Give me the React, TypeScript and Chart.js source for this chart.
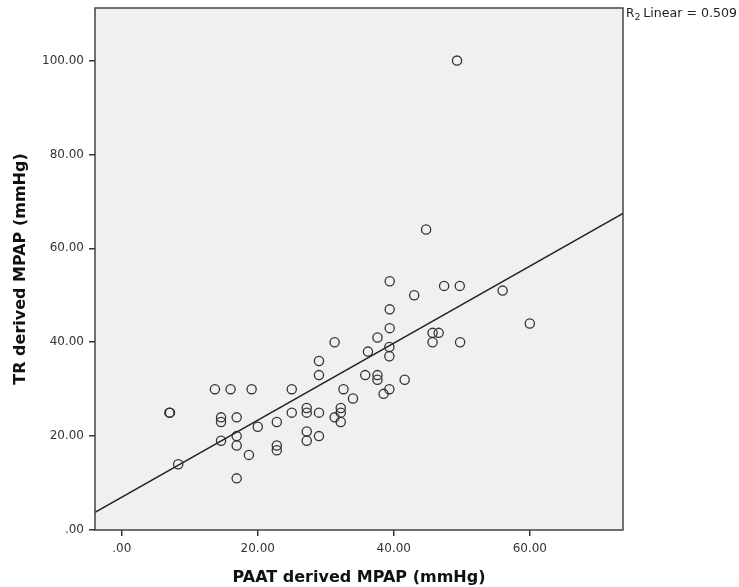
import React, { useEffect, useRef } from "react";
import { Chart, registerables } from "chart.js";

Chart.register(...registerables);

// PAAT derived MPAP (x) and TR derived MPAP (y), mmHg
const PAAT_MPAP: number[] = [
  7.0, 7.1, 8.3, 13.7, 16.0, 19.1, 25.0, 14.6, 14.6, 16.9,
  14.6, 16.9, 16.9, 16.9, 18.7, 20.0, 22.8, 22.8, 22.8, 25.0,
  27.2, 27.2, 27.2, 27.2, 29.0, 29.0, 29.0, 29.0, 31.3, 32.6,
  31.3, 32.2, 32.2, 32.2, 34.0, 38.5, 39.35, 41.6, 37.6, 37.6,
  35.8, 39.35, 36.2, 39.35, 37.6, 39.4, 39.4, 39.4, 43.0, 44.75,
  45.7, 46.6, 45.7, 47.4, 49.7, 49.75, 49.3, 56.0, 60.0,
];
const TR_MPAP: number[] = [
  25, 25, 14, 30, 30, 30, 30, 24, 23, 24,
  19, 20, 18, 11, 16, 22, 23, 18, 17, 25,
  26, 25, 21, 19, 25, 20, 33, 36, 40, 30,
  24, 26, 25, 23, 28, 29, 30, 32, 32, 33,
  33, 37, 38, 39, 41, 43, 47, 53, 50, 64,
  42, 42, 40, 52, 52, 40, 100, 51, 44,
];

const X_TICKS: number[] = [0, 20, 40, 60];
const Y_TICKS: number[] = [0, 20, 40, 60, 80, 100];
const X_MIN = -3.93;
const X_MAX = 73.7;
const Y_MIN = 0;
const Y_MAX = 111.2;

// Linear fit shown in the reference
const FIT_SLOPE = 0.82;
const FIT_INTERCEPT = 7.0;
const R2_LABEL = "Linear = 0.509";

const X_TITLE = "PAAT derived MPAP (mmHg)";
const Y_TITLE = "TR derived MPAP (mmHg)";

const fmt = (v: number) => (v === 0 ? ".00" : v.toFixed(2));

export default function App() {
  const ref = useRef<HTMLCanvasElement | null>(null);

  useEffect(() => {
    if (!ref.current) return;
    const points = PAAT_MPAP.map((x, i) => ({ x, y: TR_MPAP[i] }));
    const fitLine = [X_MIN, X_MAX].map((x) => ({ x, y: FIT_INTERCEPT + FIT_SLOPE * x }));

    const framePlugin = {
      id: "frame",
      beforeDraw(chart: any) {
        const { ctx, chartArea: a } = chart;
        ctx.save();
        ctx.fillStyle = "#f0f0f0";
        ctx.fillRect(a.left, a.top, a.right - a.left, a.bottom - a.top);
        ctx.restore();
      },
      afterDraw(chart: any) {
        const { ctx, chartArea: a } = chart;
        ctx.save();
        ctx.strokeStyle = "#444";
        ctx.lineWidth = 1.5;
        ctx.strokeRect(a.left, a.top, a.right - a.left, a.bottom - a.top);
        // R2 label
        ctx.fillStyle = "#222";
        ctx.font = "12px 'DejaVu Sans'";
        ctx.textBaseline = "alphabetic";
        const x0 = a.right + 3;
        const y0 = a.top + 9;
        ctx.fillText("R", x0, y0);
        const rw = ctx.measureText("R").width;
        ctx.font = "9px 'DejaVu Sans'";
        ctx.fillText("2", x0 + rw + 0.5, y0 + 3);
        ctx.font = "12.6px 'DejaVu Sans'";
        ctx.fillText(R2_LABEL, x0 + rw + 9, y0);
        ctx.restore();
      },
    };

    const chart = new Chart(ref.current, {
      type: "scatter",
      data: {
        datasets: [
          {
            type: "line",
            data: fitLine,
            borderColor: "#222",
            borderWidth: 1.4,
            pointRadius: 0,
            fill: false,
          } as any,
          {
            data: points,
            pointStyle: "circle",
            pointRadius: 4.6,
            pointBorderWidth: 1.3,
            pointBorderColor: "#333",
            pointBackgroundColor: "rgba(0,0,0,0)",
          },
        ],
      },
      options: {
        animation: false,
        responsive: false,
        maintainAspectRatio: false,
        layout: { padding: { left: 11, right: 116, top: 8, bottom: 0 } },
        plugins: { legend: { display: false }, tooltip: { enabled: false } },
        scales: {
          x: {
            type: "linear",
            min: X_MIN,
            max: X_MAX,
            afterBuildTicks: (s: any) => {
              s.ticks = X_TICKS.map((v) => ({ value: v }));
            },
            afterFit: (s: any) => {
              s.height = 57;
              s.paddingLeft = 0;
              s.paddingRight = 0;
            },
            grid: {
              display: true,
              drawOnChartArea: false,
              drawTicks: true,
              tickLength: 6,
              color: "#333",
              lineWidth: 1.5,
            },
            border: { display: false },
            ticks: {
              callback: (v: any) => fmt(Number(v)),
              color: "#333",
              font: { family: "'DejaVu Sans'", size: 12 },
              padding: 6,
              maxRotation: 0,
            },
            title: {
              display: true,
              text: X_TITLE,
              color: "#111",
              font: { family: "'DejaVu Sans'", size: 16, weight: "bold" },
              padding: { top: 4, bottom: 0 },
            },
          },
          y: {
            type: "linear",
            min: Y_MIN,
            max: Y_MAX,
            afterBuildTicks: (s: any) => {
              s.ticks = Y_TICKS.map((v) => ({ value: v }));
            },
            afterFit: (s: any) => {
              s.width = 84;
              s.paddingTop = 0;
              s.paddingBottom = 0;
            },
            grid: {
              display: true,
              drawOnChartArea: false,
              drawTicks: true,
              tickLength: 6,
              color: "#333",
              lineWidth: 1.5,
            },
            border: { display: false },
            ticks: {
              callback: (v: any) => fmt(Number(v)),
              color: "#333",
              font: { family: "'DejaVu Sans'", size: 12 },
              padding: 5,
            },
            title: {
              display: true,
              text: Y_TITLE,
              color: "#111",
              font: { family: "'DejaVu Sans'", size: 16, weight: "bold" },
              padding: { top: 0, bottom: 0 },
            },
          },
        },
      },
      plugins: [framePlugin],
    });
    return () => chart.destroy();
  }, []);

  return (
    <div style={{ position: "fixed", left: 0, top: 0, width: 739, height: 587, background: "#fff" }}>
      <canvas ref={ref} width={739} height={587} style={{ width: 739, height: 587, display: "block" }} />
    </div>
  );
}
